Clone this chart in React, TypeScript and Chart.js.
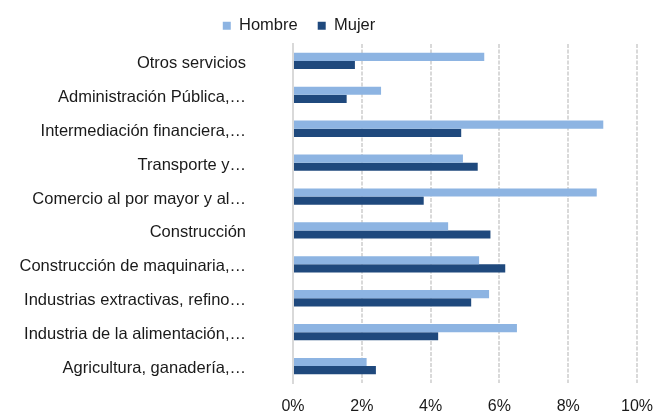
import React, { useEffect, useRef } from 'react';
import { Chart, registerables } from 'chart.js';

Chart.register(...registerables);

const categories = [
  'Otros servicios',
  'Administración Pública,…',
  'Intermediación financiera,…',
  'Transporte y…',
  'Comercio al por mayor y al…',
  'Construcción',
  'Construcción de maquinaria,…',
  'Industrias extractivas, refino…',
  'Industria de la alimentación,…',
  'Agricultura, ganadería,…',
];
const hombre = [5.56, 2.56, 9.02, 4.94, 8.83, 4.51, 5.41, 5.7, 6.51, 2.14];
const mujer = [1.8, 1.56, 4.89, 5.37, 3.8, 5.74, 6.17, 5.18, 4.22, 2.41];
const xMin = 0;
const xMax = 10;
const xStep = 2;

const FONT = "'Liberation Sans', Arial, Helvetica, sans-serif";

export default function App() {
  const ref = useRef<HTMLCanvasElement | null>(null);

  useEffect(() => {
    if (!ref.current) return;
    const chart = new Chart(ref.current, {
      type: 'bar',
      data: {
        labels: categories,
        datasets: [
          {
            label: 'Hombre',
            data: hombre,
            backgroundColor: '#8DB4E2',
            borderWidth: 0,
            categoryPercentage: 0.48,
            barPercentage: 1,
          },
          {
            label: 'Mujer',
            data: mujer,
            backgroundColor: '#1F497D',
            borderWidth: 0,
            categoryPercentage: 0.48,
            barPercentage: 1,
          },
        ],
      },
      options: {
        indexAxis: 'y',
        animation: false,
        responsive: true,
        maintainAspectRatio: false,
        layout: { padding: { top: -2.5, left: -40, right: 15, bottom: 0 } },
        plugins: {
          tooltip: { enabled: false },
          legend: {
            position: 'top',
            align: 'center',
            labels: {
              boxWidth: 8,
              boxHeight: 8,
              padding: 20,
              color: '#1a1a1a',
              font: { family: FONT, size: 16.5 },
            },
          },
        },
        scales: {
          x: {
            min: xMin,
            max: xMax,
            ticks: {
              stepSize: xStep,
              padding: 0,
              color: '#1a1a1a',
              font: { family: FONT, size: 16 },
              callback: (v: any) => v + '%',
            },
            grid: {
              color: '#D9D9D9',
              lineWidth: 2,
              drawTicks: true,
              tickLength: 14,
              tickColor: 'rgba(0,0,0,0)',
            },
            border: { display: false, dash: [4, 1.5] },
            afterFit: (s: any) => {
              s.height = 29;
            },
          },
          y: {
            ticks: {
              padding: 0,
              labelOffset: 2.5,
              color: '#1a1a1a',
              font: { family: FONT, size: 16.5 },
              autoSkip: false,
            },
            grid: { display: false, drawTicks: true, tickLength: 47 },
            border: { display: true, color: '#D9D9D9', width: 2 },
            afterFit: (s: any) => {
              s.width = 333;
            },
          },
        },
      },
    });
    return () => chart.destroy();
  }, []);

  return (
    <div style={{ position: 'absolute', left: 0, top: 0, width: 653, height: 412 }}>
      <canvas ref={ref} />
    </div>
  );
}
